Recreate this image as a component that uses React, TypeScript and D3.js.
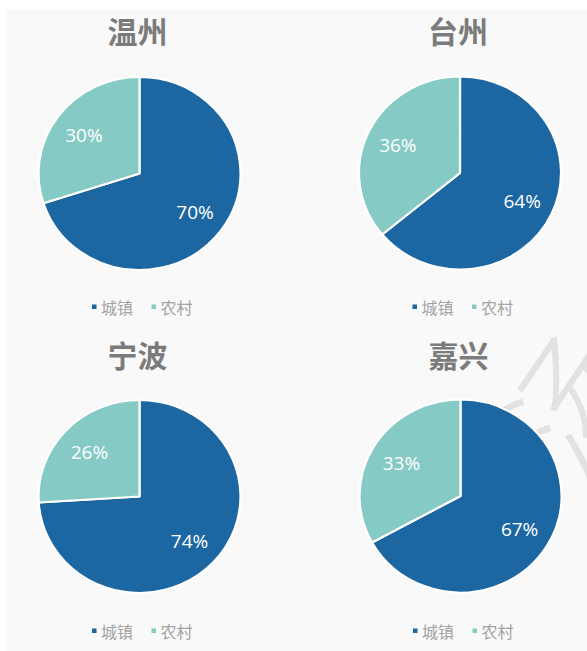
import React from "react";
import * as d3 from "d3";

const cities = ["温州", "台州", "宁波", "嘉兴"];
const seriesNames = ["城镇", "农村"];
const urban = [70, 64, 74, 67];
const rural = [30, 36, 26, 33];

const W = 587;
const H = 651;
const colors = ["#1c67a2", "#85cac4"];

// panel layout: centers of the pies
const panels = [
  { cx: 139.5, cy: 173.5, ty: 30, ly: 307 },
  { cx: 460, cy: 173, ty: 30, ly: 307 },
  { cx: 139.5, cy: 496.5, ty: 354, ly: 631 },
  { cx: 460.5, cy: 496, ty: 354, ly: 631 },
];

const R = 100;
const SX = 1.01;
const SY = 0.965;

export default function App() {
  const pie = d3.pie<number>().sort(null).value((d) => d);
  const arc = d3.arc<d3.PieArcDatum<number>>().innerRadius(0).outerRadius(R);
  const labelArc = d3
    .arc<d3.PieArcDatum<number>>()
    .innerRadius(R * 0.68)
    .outerRadius(R * 0.68);

  return (
    <svg
      width={W}
      height={H}
      style={{ position: "absolute", left: 0, top: 0 }}
      fontFamily="'Open Sans', 'Noto Sans', sans-serif"
    >
      <rect x={0} y={0} width={W} height={H} fill="#ffffff" />
      <rect x={7} y={9} width={W - 7} height={H - 9} fill="#f9f9f9" />
      {/* watermark */}
      <g transform="translate(568,398) rotate(-56)">
        <text
          x={0}
          y={0}
          textAnchor="middle"
          dominantBaseline="central"
          fontSize={135}
          fontFamily="'Noto Sans CJK SC', sans-serif"
          fontWeight={300}
          fill="#e2e2e2"
        >
          汤
        </text>
      </g>
      {cities.map((city, i) => {
        const p = panels[i];
        const arcs = pie([urban[i], rural[i]]);
        return (
          <g key={city}>
            <text
              x={p.cx - 2}
              y={p.ty}
              textAnchor="middle"
              dominantBaseline="central"
              fontSize={30}
              fontWeight={700}
              fontFamily="'Noto Sans CJK SC', sans-serif"
              fill="#7b7b7b"
            >
              {city}
            </text>
            <g transform={`translate(${p.cx},${p.cy}) scale(${SX},${SY})`}>
              {arcs.map((a, j) => (
                <path
                  key={j}
                  d={arc(a) || ""}
                  fill={colors[j]}
                  stroke="#ffffff"
                  strokeWidth={2.2}
                  strokeLinejoin="round"
                />
              ))}
            </g>
            {arcs.map((a, j) => {
              const [lx, ly] = labelArc.centroid(a);
              return (
                <text
                  key={"l" + j}
                  x={p.cx + lx * SX}
                  y={p.cy + ly * SY}
                  textAnchor="middle"
                  dominantBaseline="central"
                  fontSize={19}
                  fill="#ffffff"
                >
                  {`${a.data}%`}
                </text>
              );
            })}
            <g transform={`translate(${p.cx},${p.ly})`}>
              {seriesNames.map((s, j) => {
                const x0 = j === 0 ? -47.5 : 12;
                return (
                  <g key={s}>
                    <rect x={x0} y={-2.5} width={4.5} height={4.5} fill={colors[j]} />
                    <text
                      x={x0 + 9}
                      y={0}
                      dominantBaseline="central"
                      fontSize={16}
                      fontFamily="'Noto Sans CJK SC', serif"
                      fill="#a3a3a3"
                    >
                      {s}
                    </text>
                  </g>
                );
              })}
            </g>
          </g>
        );
      })}
    </svg>
  );
}
